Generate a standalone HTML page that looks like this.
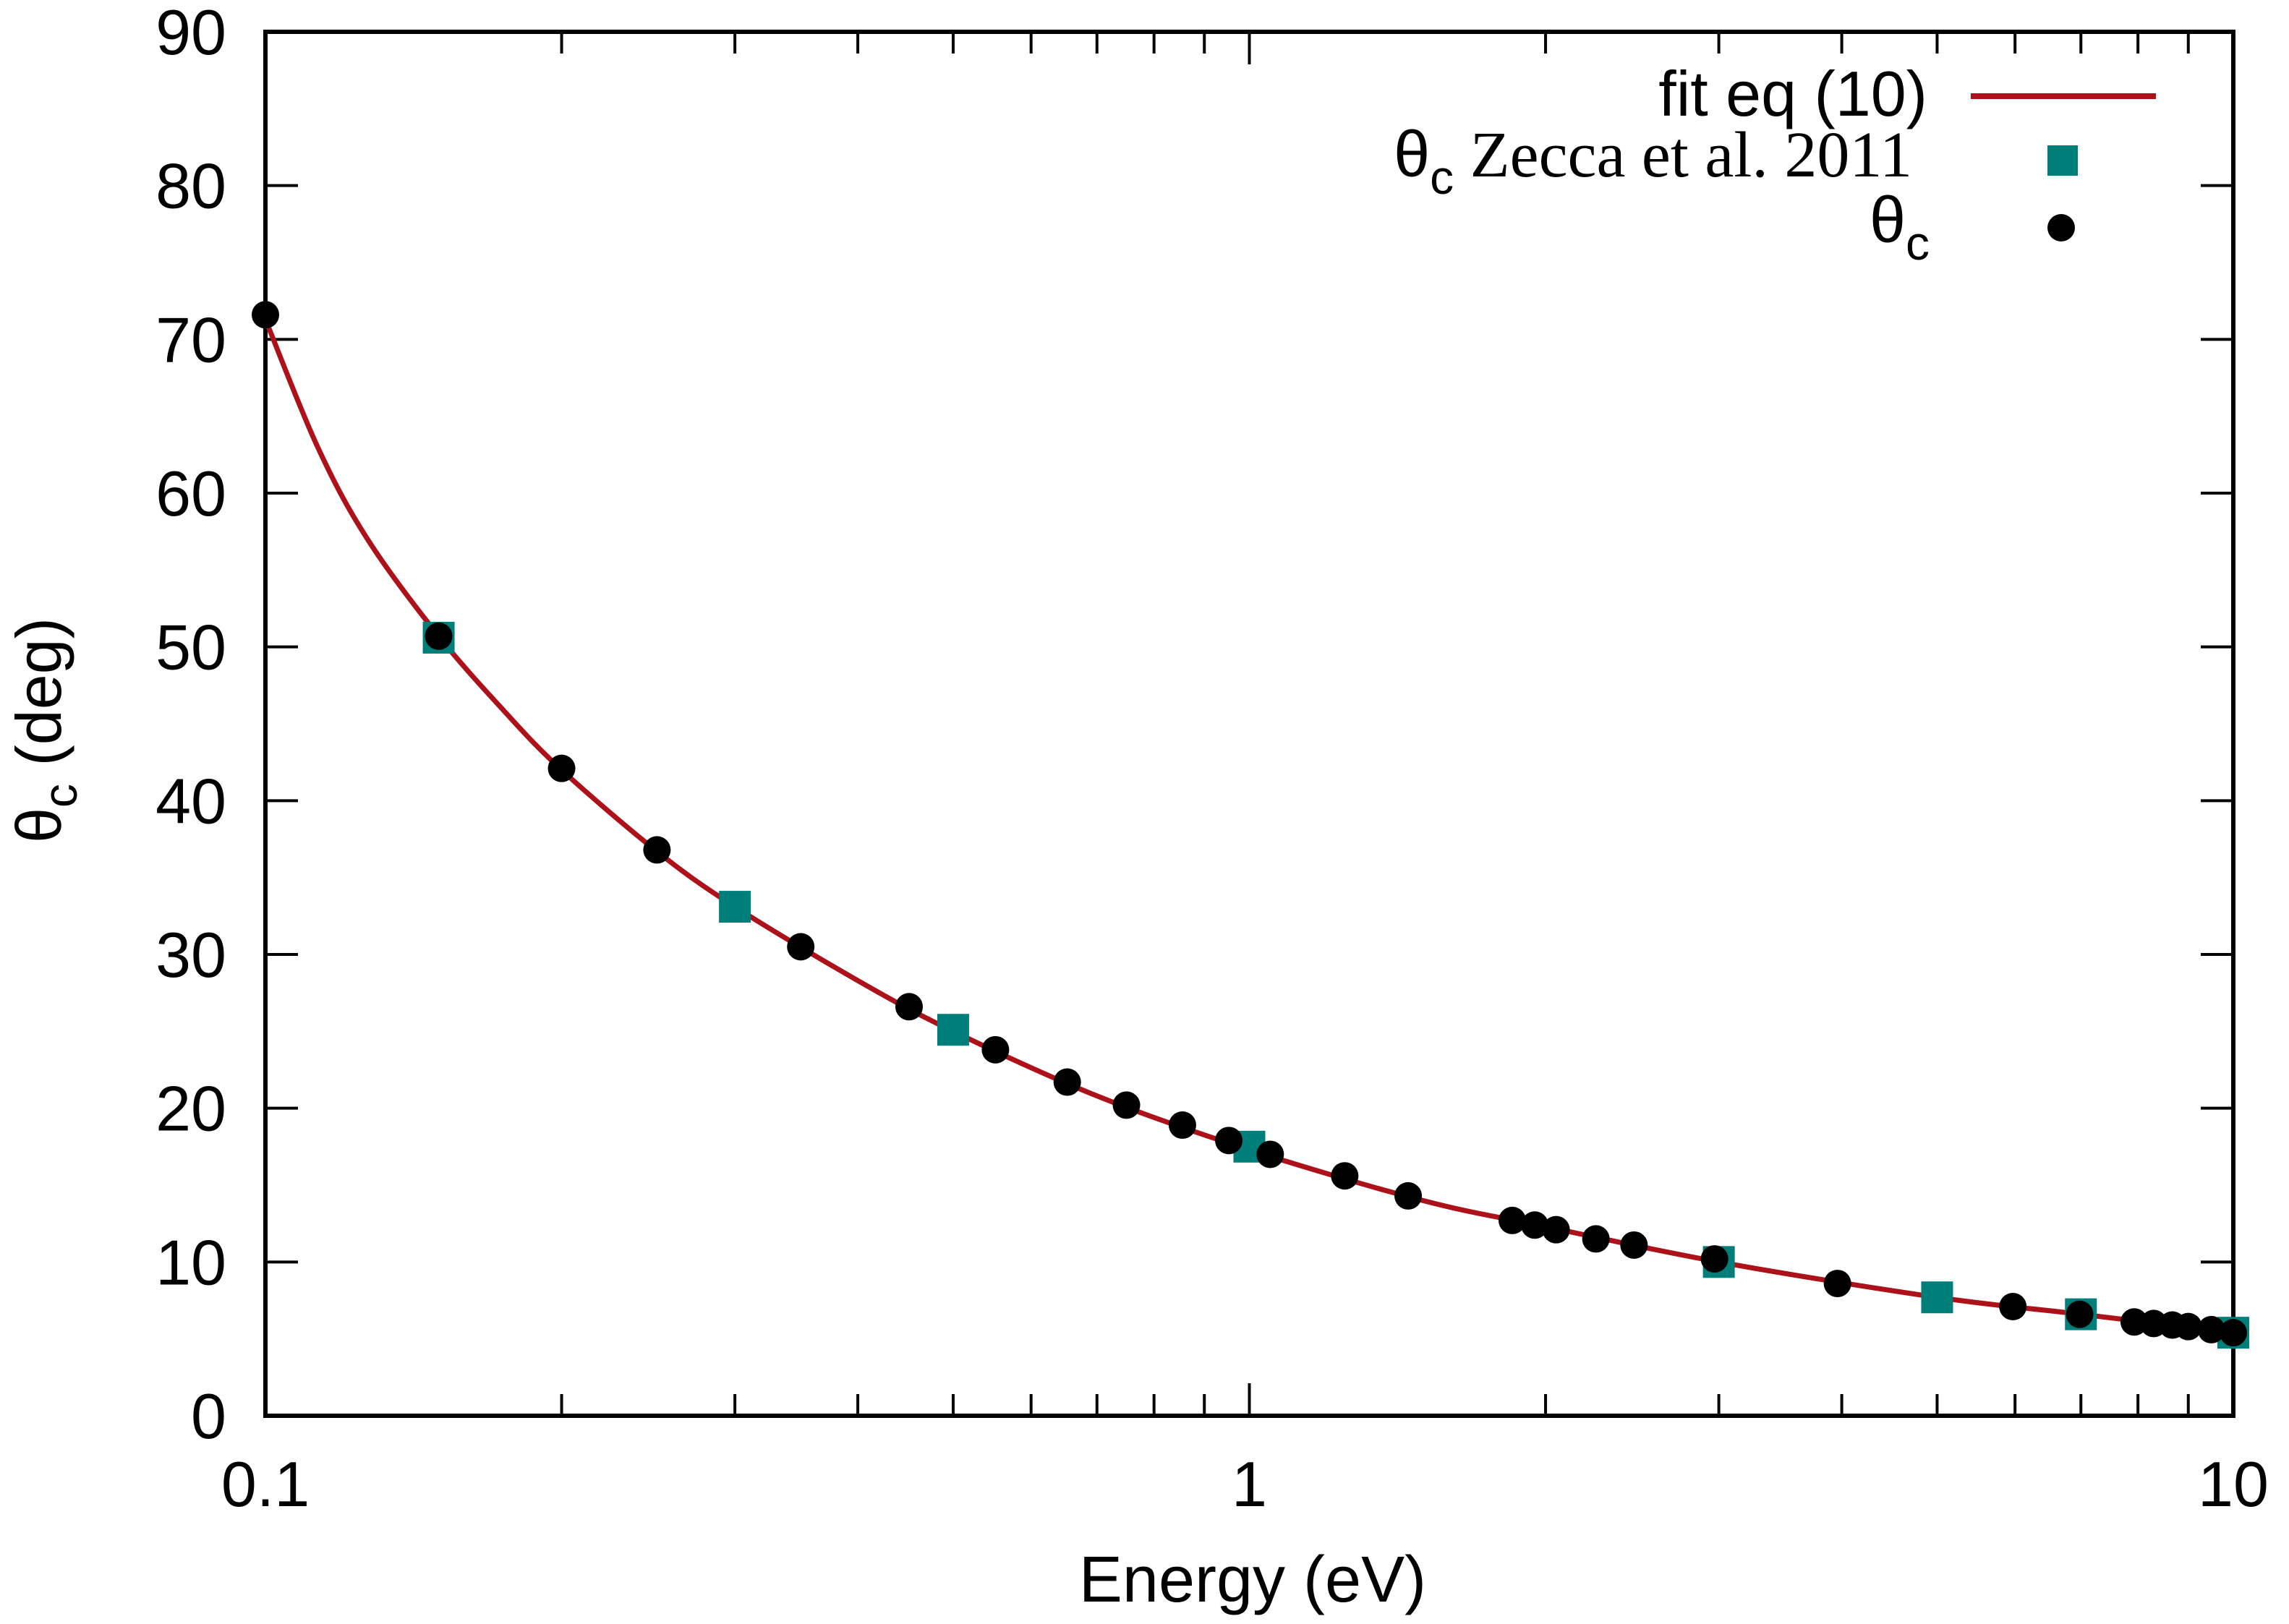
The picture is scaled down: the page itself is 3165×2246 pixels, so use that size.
<!DOCTYPE html>
<html><head><meta charset="utf-8"><style>
html,body{margin:0;padding:0;background:#fff;}
svg{display:block;}
text{font-family:"Liberation Sans",sans-serif;fill:#000;}
</style></head><body>
<svg id="chart" width="3165" height="2246" viewBox="0 0 3165 2246">
<g id="axes"></g>
<g id="curve"></g>
<g id="marks"></g>
<g id="legend">
  <text x="2665" y="160" font-size="88" text-anchor="end">fit eq (10)</text>
  <line x1="2725" y1="133" x2="2981" y2="133" stroke="#ad1119" stroke-width="8"/>
  <text x="2644" y="244" font-size="90" text-anchor="end"><tspan>θ</tspan><tspan font-size="66" dy="24">c</tspan><tspan dy="-24" font-family="Liberation Serif,serif"> Zecca et al. 2011</tspan></text>
  <rect x="2831" y="201" width="42" height="42" fill="#007f7a"/>
  <text x="2668" y="335" font-size="90" text-anchor="end"><tspan>θ</tspan><tspan font-size="66" dy="24">c</tspan></text>
  <circle cx="2850" cy="315" r="19" fill="#000"/>
</g>
<text x="1732" y="2215" font-size="90" text-anchor="middle">Energy (eV)</text>
<text transform="translate(84,1010) rotate(-90)" font-size="88" text-anchor="middle"><tspan>θ</tspan><tspan font-size="66" dy="22">c</tspan><tspan dy="-22"> (deg)</tspan></text>
</svg>
<script>
const yTicks = [0,10,20,30,40,50,60,70,80,90];
const xTickLabels = ["0.1","1","10"];
const xTickValues = [0.1,1,10];
const circleE = [0.1,0.15,0.2,0.25,0.35,0.451,0.552,0.653,0.75,0.855,0.953,1.05,1.25,1.45,1.85,1.95,2.05,2.25,2.46,2.97,3.96,5.97,6.98,7.93,8.3,8.67,9.0,9.5,10];
const circleTheta = [71.6,50.7,42.1,36.8,30.5,26.6,23.8,21.7,20.2,18.9,17.9,17.0,15.6,14.3,12.7,12.4,12.1,11.5,11.1,10.2,8.6,7.1,6.6,6.1,6.0,5.9,5.8,5.6,5.4];
const squareE = [0.15,0.3,0.5,1.0,3.0,5.0,7.0,10];
const squareTheta = [50.6,33.1,25.1,17.5,10.0,7.7,6.6,5.4];
const fitE = [0.1,0.113,0.127,0.15,0.175,0.2,0.25,0.3,0.4,0.5,0.7,1,1.5,2,3,5,7,10];
const fitTheta = [71.3,63.0,57.0,50.7,45.8,42,36.7,33.1,28.3,25,20.8,17.3,14.0,12.3,10.0,7.7,6.6,5.4];

const L=367,R=3088,T=44,B=1958;
const xs = e => L + (Math.log10(e)+1)/2*(R-L);
const ys = v => B - v/90*(B-T);
const NS="http://www.w3.org/2000/svg";
function mk(tag, parent, attrs){const el=document.createElementNS(NS,tag);for(const k in attrs)el.setAttribute(k,attrs[k]);parent.appendChild(el);return el;}
const axes=document.getElementById('axes');
yTicks.forEach((v,i)=>{
  const y=ys(v);
  if(i>0&&i<yTicks.length-1){
    const t1=mk('line',axes,{x1:L,y1:y,x2:L+45,y2:y,stroke:'#000','stroke-width':4});
    
    
    const t2=mk('line',axes,{x1:R-45,y1:y,x2:R,y2:y,stroke:'#000','stroke-width':4});
    
    
  }
  const lb=mk('text',axes,{x:313,y:y+31,'font-size':88,'text-anchor':'end'});
  lb.textContent=String(v);
  
  
});
[0.1,1].forEach(d=>{
  for(let m=2;m<=9;m++){
    const x=xs(d*m);
    const a=mk('line',axes,{x1:x,y1:B,x2:x,y2:B-30,stroke:'#000','stroke-width':4});
    
    
    const b=mk('line',axes,{x1:x,y1:T,x2:x,y2:T+30,stroke:'#000','stroke-width':4});
    
    
  }
});
xTickValues.forEach((v,i)=>{
  const x=xs(v);
  const a=mk('line',axes,{x1:x,y1:B,x2:x,y2:B-45,stroke:'#000','stroke-width':4});
  
  
  const b=mk('line',axes,{x1:x,y1:T,x2:x,y2:T+45,stroke:'#000','stroke-width':4});
  
  
  const lb=mk('text',axes,{x:x,y:2083,'font-size':88,'text-anchor':'middle'});
  lb.textContent=xTickLabels[i];
  
  
});
const frame=mk('rect',axes,{x:L,y:T,width:R-L,height:B-T,fill:'none',stroke:'#000','stroke-width':6});


const P=fitE.map((e,i)=>[xs(e),ys(fitTheta[i])]);
let d=`M${P[0][0]},${P[0][1]}`;
for(let i=0;i<P.length-1;i++){
  const p0=P[Math.max(0,i-1)],p1=P[i],p2=P[i+1],p3=P[Math.min(P.length-1,i+2)];
  const c1=[p1[0]+(p2[0]-p0[0])/6,p1[1]+(p2[1]-p0[1])/6];
  const c2=[p2[0]-(p3[0]-p1[0])/6,p2[1]-(p3[1]-p1[1])/6];
  d+=` C${c1[0]},${c1[1]} ${c2[0]},${c2[1]} ${p2[0]},${p2[1]}`;
}
const path=mk('path',document.getElementById('curve'),{d:d,fill:'none',stroke:'#ad1119','stroke-width':7});


const marks=document.getElementById('marks');
squareE.forEach((e,i)=>{
  const r=mk('rect',marks,{x:xs(e)-22,y:ys(squareTheta[i])-22,width:44,height:44,fill:'#007f7a'});
  
  
});
circleE.forEach((e,i)=>{
  const c=mk('circle',marks,{cx:xs(e),cy:ys(circleTheta[i]),r:19,fill:'#000'});
  
  
});
</script>
</body></html>
